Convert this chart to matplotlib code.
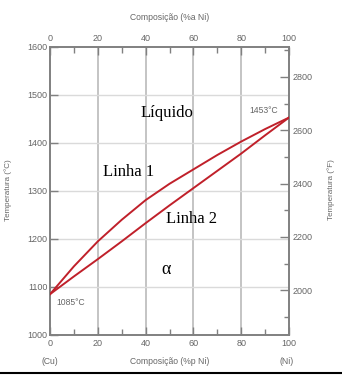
import numpy as np
import matplotlib
matplotlib.use("Agg")
import matplotlib.pyplot as plt
from matplotlib.lines import Line2D
from matplotlib.ticker import MultipleLocator

# Cu-Ni phase diagram
comp_ni = [0, 10, 20, 30, 40, 50, 60, 70, 80, 90, 100]          # %p Ni
liquidus = [1085, 1143, 1195, 1240, 1281, 1315, 1345, 1375, 1403, 1429, 1453]   # Linha 1
solidus = [1085, 1122, 1158, 1195, 1233, 1270, 1306, 1342, 1378, 1416, 1453]    # Linha 2

x_ticks = [0, 20, 40, 60, 80, 100]
c_ticks = [1000, 1100, 1200, 1300, 1400, 1500, 1600]
f_ticks = [2000, 2200, 2400, 2600, 2800]

GRAY = "#666666"
RED = "#c0202a"

plt.rcParams['font.family'] = ['Liberation Sans', 'DejaVu Sans']

fig = plt.figure(figsize=(3.42, 3.77), dpi=100)
ax = fig.add_axes([50 / 342, 42 / 377, 239 / 342, 288 / 377])

ax.plot(comp_ni, liquidus, color=RED, lw=1.4, zorder=3, solid_joinstyle="round")
ax.plot(comp_ni, solidus, color=RED, lw=1.4, zorder=3, solid_joinstyle="round")

ax.set_xlim(0, 100)
ax.set_ylim(1000, 1600)
ax.set_xticks(x_ticks)
ax.set_yticks(c_ticks)
ax.xaxis.set_minor_locator(MultipleLocator(10))

# grid: vertical darker, horizontal light
for xv in x_ticks[1:-1]:
    ax.axvline(xv, color="#b4b4b4", lw=1.1, zorder=1)
for yv in c_ticks[1:-1]:
    ax.axhline(yv, color="#dadada", lw=1.0, zorder=1)

for sp in ax.spines.values():
    sp.set_color("#808080")
    sp.set_linewidth(1.4)

ax.tick_params(which="both", direction="in", colors="#808080", labelcolor=GRAY,
               labelsize=6.5, width=1.0)
ax.tick_params(which="major", length=5.5)
ax.tick_params(which="minor", length=4.5)
ax.tick_params(axis="x", pad=3)
ax.tick_params(axis="y", pad=2)

# top axis (%a Ni)
top = ax.twiny()
top.set_xlim(0, 100)
top.set_xticks(x_ticks)
top.xaxis.set_minor_locator(MultipleLocator(10))
top.tick_params(which="both", direction="in", colors="#808080", labelcolor=GRAY,
                labelsize=6.5, width=1.0, pad=3)
top.tick_params(which="major", length=5.5)
top.tick_params(which="minor", length=4.5)
for sp in top.spines.values():
    sp.set_visible(False)

# right axis (°F)
right = ax.twinx()
right.set_ylim(1000 * 9 / 5 + 32, 1600 * 9 / 5 + 32)
right.set_yticks(f_ticks)
right.yaxis.set_minor_locator(MultipleLocator(100))
right.tick_params(which="both", direction="in", colors="#808080", labelcolor=GRAY,
                  labelsize=6.5, width=1.0, pad=2.5)
right.tick_params(which="major", length=6.5)
right.tick_params(which="minor", length=3.6)
for sp in right.spines.values():
    sp.set_visible(False)

# region / line labels
serif = ['Liberation Serif', 'DejaVu Serif']
ax.text(48.8, 1462, "Líquido", family=serif, fontsize=12, ha="center", va="center")
ax.text(33, 1339, "Linha 1", family=serif, fontsize=12, ha="center", va="center")
ax.text(59, 1241, "Linha 2", family=serif, fontsize=12, ha="center", va="center")
ax.text(48.4, 1137, "α", family=serif, fontsize=13, ha="center", va="center")
ax.text(95.5, 1467, "1453°C", fontsize=6.2, color=GRAY, ha="right", va="center")
ax.text(2.8, 1068, "1085°C", fontsize=6.2, color=GRAY, ha="left", va="center")

# axis titles
fig.text(8 / 342, 1 - 190 / 377, "Temperatura (°C)", rotation=90, fontsize=5.8,
         color=GRAY, ha="center", va="center")
fig.text(331 / 342, 1 - 190 / 377, "Temperatura (°F)", rotation=90, fontsize=5.8,
         color=GRAY, ha="center", va="center")
fig.text(170 / 342, 1 - 17 / 377, "Composição (%a Ni)", fontsize=6.2,
         color=GRAY, ha="center", va="center")
fig.text(170 / 342, 1 - 362 / 377, "Composição (%p Ni)", fontsize=6.2,
         color=GRAY, ha="center", va="center")
fig.text(50 / 342, 1 - 362 / 377, "(Cu)", fontsize=6.2, color=GRAY, ha="center", va="center")
fig.text(287 / 342, 1 - 362 / 377, "(Ni)", fontsize=6.2, color=GRAY, ha="center", va="center")

# black rule along the bottom edge
fig.add_artist(Line2D([0, 1], [4 / 377, 4 / 377], transform=fig.transFigure,
                      color="black", lw=1.5))

fig.savefig("out.png", dpi=100)
